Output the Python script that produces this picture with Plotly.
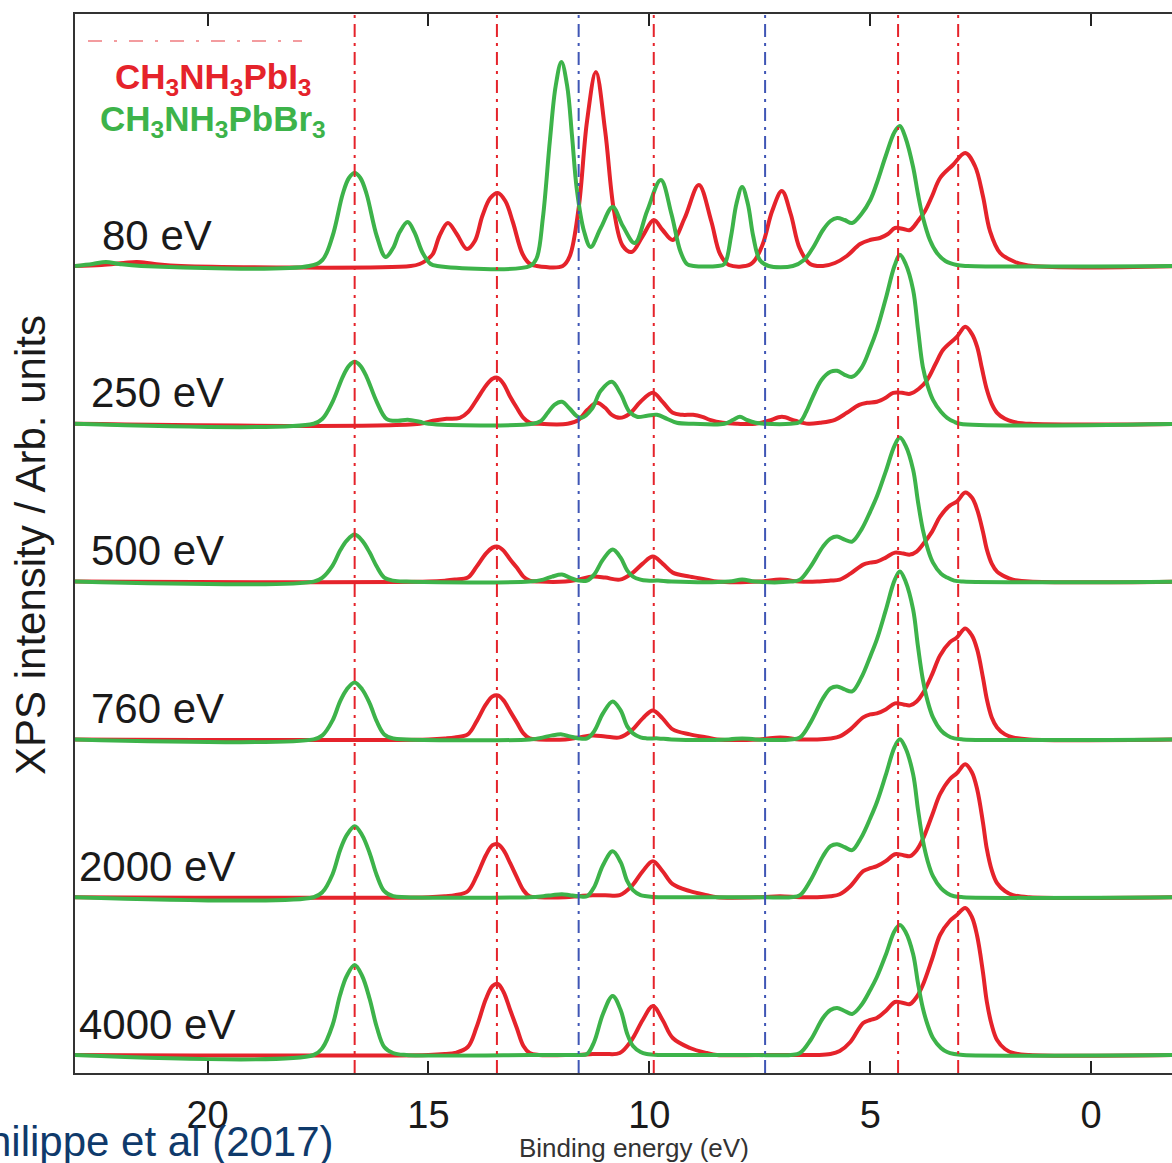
import plotly.graph_objects as go

# ---------------------------------------------------------------------------
# Valence-band XPS spectra of CH3NH3PbI3 (red) and CH3NH3PbBr3 (green)
# recorded at six photon energies; intensities in arbitrary units.
# ---------------------------------------------------------------------------
photon_labels = ["80 eV", "250 eV", "500 eV", "760 eV", "2000 eV", "4000 eV"]

# --- 80 eV -----------------------------------------------------------------
e_I_80 = [23.0, 22.4, 21.9, 21.6, 21.2, 20.6, 15.4, 15.2, 15.04, 14.9, 14.75, 14.56, 14.36, 14.13, 13.95,
          13.78, 13.6, 13.43, 13.26, 13.09, 12.87, 12.7, 12.55, 11.96, 11.8, 11.6, 11.41, 11.21, 11.0, 10.8,
          10.6, 10.4, 10.15, 9.9, 9.7, 9.47, 9.2, 8.88, 8.6, 8.4, 8.2, 7.7, 7.45, 7.22, 7.0, 6.8, 6.6, 6.36,
          6.07, 5.8, 5.53, 5.23, 5.01, 4.78, 4.6, 4.44, 4.25, 4.10, 3.92, 3.76, 3.6, 3.42, 3.13, 2.85, 2.63,
          2.45, 2.29, 2.06, 1.72, 1.31, -2.0]
i_I_80 = [0, 1, 3, 4, 2, 0, 0, 2, 6, 12, 30, 43, 32, 17, 25,
          50, 68, 73, 65, 44, 12, 2, 0, 0, 10, 58, 145, 194, 135, 55,
          20, 14, 30, 46, 36, 26, 48, 81, 45, 12, 1, 2, 20, 55, 75, 52, 18, 2,
          0, 3, 10, 22, 26, 28, 32, 38, 37, 36, 45, 55, 70, 88, 101, 113, 100,
          70, 35, 13, 4, 0, 0]

e_Br_80 = [23.0, 22.6, 22.3, 22.0, 21.5, 17.7, 17.4, 17.17, 16.94, 16.8, 16.67, 16.54, 16.4, 16.17, 15.97,
           15.8, 15.65, 15.47, 15.32, 15.13, 14.95, 14.8, 12.7, 12.55, 12.41, 12.25, 12.12, 11.99, 11.86, 11.75,
           11.64, 11.48, 11.33, 11.1, 10.83, 10.6, 10.33, 10.05, 9.74, 9.5, 9.3, 9.15, 9.0, 8.45, 8.3,
           8.15, 8.03, 7.9, 7.77, 7.65, 7.5, 7.3, 6.75, 6.5, 6.3, 6.07, 5.9, 5.75, 5.58, 5.41,
           5.2, 5.0, 4.85, 4.65, 4.45, 4.33, 4.2, 4.03, 3.92, 3.81, 3.65, 3.49, 3.3, 3.04, 2.8, -2.0]
i_Br_80 = [0, 2, 4, 2, 0, 0, 6, 30, 72, 88, 93, 88, 72, 30, 9,
           18, 34, 44, 34, 13, 2, 0, 0, 8, 48, 126, 180, 204, 180, 130,
           76, 35, 19, 38, 59, 40, 23, 55, 86, 52, 15, 2, 0, 0, 2,
           30, 62, 79, 62, 30, 6, 0, 0, 6, 18, 36, 45, 48, 46, 43,
           52, 66, 83, 110, 134, 140, 128, 99, 72, 49, 26, 13, 5, 1, 0, 0]

# --- 250 eV ----------------------------------------------------------------
e_I_250 = [23.0, 15.2, 14.9, 14.59, 14.29, 14.1, 13.91, 13.7, 13.55, 13.43, 13.3, 13.15, 13.0, 12.85, 12.7,
           12.5, 11.85, 11.6, 11.4, 11.19, 11.0, 10.85, 10.67, 10.45, 10.2, 9.92, 9.7, 9.47, 9.25, 9.01,
           8.8, 8.63, 8.34, 8.0, 7.6, 7.3, 7.0, 6.7, 6.4, 6.14, 5.8, 5.53, 5.25, 5.07, 4.85,
           4.65, 4.48, 4.28, 4.10, 3.9, 3.71, 3.52, 3.35, 3.04, 2.85, 2.7, 2.58, 2.47, 2.36, 2.25,
           2.13, 1.95, 1.77, 1.38, -2.0]
i_I_250 = [0, 0, 3, 5, 6, 12, 24, 38, 45, 46, 40, 27, 16, 6, 1,
           0, 0, 4, 14, 21, 16, 9, 6, 10, 22, 31, 22, 11, 9, 9,
           7, 4, 1, 0, 0, 3, 7, 3, 0, 1, 4, 11, 19, 21, 22,
           26, 31, 31, 30, 35, 44, 60, 74, 87, 97, 90, 77, 55, 34, 20,
           11, 5, 2, 0, 0]

e_Br_250 = [23.0, 17.6, 17.4, 17.17, 16.94, 16.8, 16.67, 16.54, 16.4, 16.17, 15.95, 15.7, 15.47, 15.2, 15.0,
            12.64, 12.45, 12.3, 12.15, 11.98, 11.8, 11.65, 11.53, 11.3, 11.1, 10.85, 10.65, 10.45, 10.28, 10.05,
            9.83, 9.6, 9.38, 9.0, 8.3, 8.1, 7.95, 7.8, 7.6, 7.4, 6.8, 6.59, 6.45, 6.30, 6.1,
            5.9, 5.75, 5.58, 5.41, 5.2, 5.0, 4.85, 4.65, 4.45, 4.33, 4.2, 4.03, 3.92, 3.81, 3.7,
            3.58, 3.4, 3.26, 3.1, 2.97, -2.0]
i_Br_250 = [0, 0, 5, 22, 47, 58, 62, 58, 47, 22, 5, 3, 4, 2, 0,
            0, 3, 11, 19, 22, 15, 8, 6, 15, 33, 42, 30, 12, 7, 8,
            9, 5, 1, 0, 0, 4, 7, 4, 1, 0, 0, 2, 12, 27, 44,
            52, 53, 49, 47, 56, 76, 94, 125, 158, 169, 160, 134, 95, 57, 38,
            24, 12, 6, 2, 0, 0]

# --- 500 / 760 / 2000 / 4000 eV share the same energy sampling ----------------
e_I_hi = [23.0, 15.0, 14.6, 14.4, 14.11, 13.91, 13.7, 13.55, 13.43, 13.3, 13.15, 13.0, 12.85, 12.71, 12.5,
          11.9, 11.6, 11.28, 11.0, 10.67, 10.4, 10.15, 9.92, 9.7, 9.47, 9.08, 8.7, 8.47,
          7.5, 7.04, 6.6,
          6.2, 5.9, 5.69, 5.45, 5.16, 5.0, 4.85, 4.65, 4.44, 4.25, 4.10, 3.95, 3.81, 3.6, 3.42,
          3.2, 3.04, 2.85, 2.7, 2.58, 2.45, 2.36, 2.25, 2.13, 1.95, 1.77, 1.4, -2.0]
i_I_500 = [0, 0, 1, 2, 4, 15, 28, 34, 35, 31, 22, 14, 5, 1, 0,
           0, 2, 5, 4, 2, 8, 18, 25, 18, 9, 5, 2, 0,
           0, 2, 0,
           0, 1, 2, 8, 17, 19, 20, 24, 29, 28, 27, 30, 37, 50, 65,
           76, 80, 89, 84, 72, 50, 32, 18, 10, 5, 2, 0, 0]
i_I_760 = [0, 0, 1, 2, 5, 18, 35, 43, 44, 39, 28, 17, 6, 1, 0,
           0, 2, 4, 3, 2, 9, 21, 29, 21, 10, 5, 2, 0,
           0, 2, 0,
           0, 1, 3, 10, 22, 25, 26, 30, 36, 35, 34, 38, 46, 65, 84,
           97, 102, 111, 104, 90, 62, 40, 22, 12, 5, 2, 0, 0]
i_I_2000 = [0, 0, 1, 2, 6, 21, 42, 52, 53, 47, 34, 20, 7, 1, 0,
            0, 1, 2, 2, 2, 11, 26, 36, 26, 13, 6, 2, 0,
            0, 1, 0,
            0, 1, 3, 11, 26, 29, 31, 36, 43, 42, 41, 47, 58, 82, 103,
            118, 124, 133, 125, 108, 75, 48, 27, 14, 6, 2, 0, 0]
i_I_4000 = [0, 0, 1, 2, 8, 28, 56, 69, 71, 63, 45, 27, 9, 2, 0,
            0, 0, 1, 1, 2, 15, 35, 49, 35, 17, 7, 2, 0,
            0, 0, 0,
            0, 1, 4, 13, 32, 35, 37, 44, 53, 52, 51, 58, 70, 96, 120,
            134, 140, 147, 138, 119, 83, 53, 30, 15, 6, 2, 0, 0]

e_Br_hi = [23.0, 17.6, 17.4, 17.17, 17.0, 16.85, 16.67, 16.5, 16.33, 16.17, 16.0, 15.8, 15.5,
           12.7, 12.4, 12.2, 11.98, 11.8, 11.6, 11.41, 11.25, 11.05, 10.83, 10.65, 10.5, 10.37, 10.2, 10.06,
           9.8, 9.5,
           8.2, 7.9, 7.6,
           6.8, 6.59, 6.35, 6.07, 5.9, 5.75, 5.58, 5.41, 5.2, 5.0, 4.85, 4.65, 4.45, 4.33, 4.2,
           4.03, 3.92, 3.81, 3.7, 3.58, 3.4, 3.26, 3.1, 2.9, -2.0]
i_Br_500 = [0, 0, 4, 16, 31, 41, 47, 41, 29, 15, 4, 1, 0,
            0, 2, 5, 7, 4, 1, 1, 7, 22, 32, 24, 11, 5, 2, 1, 1, 0,
            0, 2, 0,
            0, 2, 15, 35, 43, 45, 42, 40, 52, 70, 85, 110, 136, 144, 136,
            112, 80, 52, 33, 19, 8, 4, 1, 0, 0]
i_Br_760 = [0, 0, 4, 19, 38, 50, 57, 50, 36, 18, 5, 1, 0,
            0, 2, 4, 5, 3, 1, 1, 8, 26, 38, 29, 13, 6, 2, 1, 1, 0,
            0, 1, 0,
            0, 2, 17, 41, 51, 53, 50, 48, 62, 83, 100, 129, 159, 168, 158,
            130, 93, 60, 38, 22, 9, 4, 1, 0, 0]
i_Br_2000 = [0, 0, 5, 23, 47, 62, 71, 62, 44, 22, 6, 1, 0,
             0, 1, 2, 3, 2, 1, 1, 10, 32, 46, 35, 16, 7, 2, 1, 0, 0,
             0, 0, 0,
             0, 2, 17, 41, 51, 53, 50, 47, 60, 79, 95, 122, 150, 158, 149,
             123, 88, 57, 36, 21, 9, 4, 1, 0, 0]
i_Br_4000 = [0, 0, 7, 30, 60, 79, 90, 79, 56, 28, 8, 2, 0,
             0, 0, 0, 0, 0, 0, 1, 13, 41, 59, 45, 21, 9, 3, 1, 0, 0,
             0, 0, 0,
             0, 2, 15, 37, 45, 47, 44, 41, 50, 65, 78, 100, 124, 130, 123,
             101, 72, 47, 30, 17, 7, 3, 1, 0, 0]

# Reference binding energies marked by dash-dot guides
guide_red = [16.67, 13.45, 9.90, 4.37, 3.01]
guide_blue = [11.60, 7.38]

x_tick_vals = [20, 15, 10, 5, 0]
x_tick_text = ["20", "15", "10", "5", "0"]

series_I = [(e_I_80, i_I_80), (e_I_250, i_I_250), (e_I_hi, i_I_500),
            (e_I_hi, i_I_760), (e_I_hi, i_I_2000), (e_I_hi, i_I_4000)]
series_Br = [(e_Br_80, i_Br_80), (e_Br_250, i_Br_250), (e_Br_hi, i_Br_500),
             (e_Br_hi, i_Br_760), (e_Br_hi, i_Br_2000), (e_Br_hi, i_Br_4000)]

for e, i in series_I + series_Br:
    assert len(e) == len(i), (len(e), len(i))

# ---------------------------------------------------------------------------
RED = "#e5232b"
GREEN = "#3db34a"
BLUE = "#3f56b5"
FONT = "Liberation Sans, Arial, sans-serif"

STEP = 157.8            # vertical offset between stacked spectra
N = len(photon_labels)
X_RANGE = [23.0, -1.83]
Y_RANGE = [-18, 1041]

W, H = 1172, 1163
ML, MR, MT, MB = 75, 0, 14, 90
PW, PH = W - ML - MR, H - MT - MB


def paper_x(px):
    return (px - ML) / PW


def paper_y(py):
    return (H - MB - py) / PH


def offset(k):
    return (N - 1 - k) * STEP


fig = go.Figure()

for group, color in ((series_I, RED), (series_Br, GREEN)):
    for k, (e, inten) in enumerate(group):
        fig.add_trace(go.Scatter(
            x=e, y=[v + offset(k) for v in inten],
            mode="lines",
            line=dict(color=color, width=4, shape="spline", smoothing=1.0),
            hoverinfo="skip", showlegend=False,
        ))

shapes = []
for xv in guide_red:
    shapes.append(dict(type="line", xref="x", yref="paper", x0=xv, x1=xv, y0=0, y1=1,
                       line=dict(color=RED, width=2, dash="13px,6px,3px,6px"), layer="above"))
for xv in guide_blue:
    shapes.append(dict(type="line", xref="x", yref="paper", x0=xv, x1=xv, y0=0, y1=1,
                       line=dict(color=BLUE, width=2, dash="13px,6px,3px,6px"), layer="above"))
# faint key line above the compound names
shapes.append(dict(type="line", xref="paper", yref="paper",
                   x0=paper_x(88), x1=paper_x(302), y0=paper_y(41), y1=paper_y(41),
                   line=dict(color="rgba(229,35,43,0.45)", width=2, dash="14px,12px,3px,12px")))

annotations = []
label_px = [100, 89, 89, 89, 77, 77]
for k, lab in enumerate(photon_labels):
    annotations.append(dict(
        text=lab, xref="paper", yref="y",
        x=paper_x(label_px[k]), y=offset(k) + 31,
        xanchor="left", yanchor="middle", showarrow=False,
        font=dict(family=FONT, size=42, color="#1a1a1a"),
    ))

annotations += [
    dict(text="<b>CH<sub>3</sub>NH<sub>3</sub>PbI<sub>3</sub></b>", xref="paper", yref="paper",
         x=paper_x(214), y=paper_y(79), xanchor="center", yanchor="middle", showarrow=False,
         font=dict(family=FONT, size=35, color=RED)),
    dict(text="<b>CH<sub>3</sub>NH<sub>3</sub>PbBr<sub>3</sub></b>", xref="paper", yref="paper",
         x=paper_x(213), y=paper_y(121), xanchor="center", yanchor="middle", showarrow=False,
         font=dict(family=FONT, size=35, color=GREEN)),
    dict(text="XPS intensity / Arb. units", xref="paper", yref="paper",
         x=paper_x(30), y=paper_y(545), textangle=-90, xanchor="center", yanchor="middle",
         showarrow=False, font=dict(family=FONT, size=42, color="#1a1a1a")),
    dict(text="Binding energy (eV)", xref="paper", yref="paper",
         x=paper_x(634), y=paper_y(1148), xanchor="center", yanchor="middle",
         showarrow=False, font=dict(family=FONT, size=26, color="#333333")),
    dict(text="Philippe et al (2017)", xref="paper", yref="paper",
         x=paper_x(336), y=paper_y(1141), xanchor="right", yanchor="middle",
         showarrow=False, font=dict(family=FONT, size=42, color="#0f3a6b")),
]

fig.update_layout(
    width=W, height=H,
    margin=dict(l=ML, r=MR, t=MT, b=MB),
    paper_bgcolor="white", plot_bgcolor="white",
    shapes=shapes, annotations=annotations,
    xaxis=dict(range=X_RANGE, tickvals=x_tick_vals, ticktext=x_tick_text,
               ticks="inside", ticklen=12, tickwidth=1.5, tickcolor="#222",
               showline=True, linecolor="#333", linewidth=2, mirror="ticks",
               showgrid=False, zeroline=False, ticklabelstandoff=7,
               tickfont=dict(family=FONT, size=38, color="#1a1a1a")),
    yaxis=dict(range=Y_RANGE, showticklabels=False, ticks="",
               showline=True, linecolor="#333", linewidth=2, mirror=False,
               showgrid=False, zeroline=False),
)

fig.write_html("out.html")
